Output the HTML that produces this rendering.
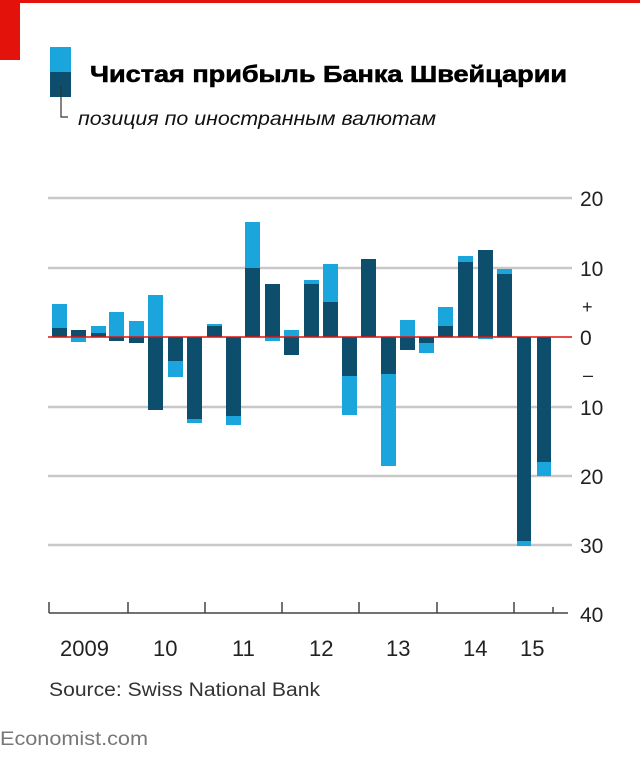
<!DOCTYPE html>
<html><head><meta charset="utf-8"><style>
body{margin:0;background:#fff;width:640px;height:758px;overflow:hidden}
</style></head><body>
<svg width="640" height="758" xmlns="http://www.w3.org/2000/svg" font-family="Liberation Sans, sans-serif">
<rect x="0" y="0" width="640" height="3" fill="#e3120b"/>
<rect x="0" y="0" width="20" height="60" fill="#e3120b"/>
<rect x="50" y="47" width="21" height="25" fill="#1aa6dc"/>
<rect x="50" y="72" width="21" height="25" fill="#0c4e6b"/>
<path d="M61 86 V117 H68" stroke="#333" stroke-width="1.2" fill="none"/>
<text x="90" y="82" font-size="23" font-weight="bold" textLength="477" lengthAdjust="spacingAndGlyphs" font-family="Liberation Sans, 'Noto Sans CJK SC', sans-serif" fill="#000" stroke="#000" stroke-width="0.6">Чистая прибыль Банка Швейцарии</text>
<text x="78" y="125" font-size="19" font-style="italic" textLength="358" lengthAdjust="spacingAndGlyphs" font-family="Liberation Sans, 'Noto Sans CJK SC', sans-serif" fill="#111">позиция по иностранным валютам</text>
<g stroke="#c8c8c8" stroke-width="2.5">
<line x1="48" y1="198" x2="572" y2="198"/>
<line x1="48" y1="268" x2="572" y2="268"/>
<line x1="48" y1="407" x2="572" y2="407"/>
<line x1="48" y1="476" x2="572" y2="476"/>
<line x1="48" y1="545" x2="572" y2="545"/>
</g>
<g font-size="21" fill="#222">
<text x="580" y="206">20</text>
<text x="580" y="276">10</text>
<text x="582" y="313" font-size="18">+</text>
<text x="580" y="345">0</text>
<text x="583" y="381" font-size="18">–</text>
<text x="580" y="415">10</text>
<text x="580" y="484">20</text>
<text x="580" y="553">30</text>
<text x="580" y="622">40</text>
</g>
<g>
<rect x="52" y="304" width="15" height="24" fill="#1aa6dc"/><rect x="52" y="328" width="15" height="9" fill="#0c4e6b"/>
<rect x="71" y="330" width="15" height="7" fill="#0c4e6b"/><rect x="71" y="337" width="15" height="5" fill="#1aa6dc"/>
<rect x="91" y="326" width="15" height="7" fill="#1aa6dc"/><rect x="91" y="333" width="15" height="4" fill="#0c4e6b"/>
<rect x="109" y="312" width="15" height="25" fill="#1aa6dc"/><rect x="109" y="337" width="15" height="4" fill="#0c4e6b"/>
<rect x="129" y="321" width="15" height="16" fill="#1aa6dc"/><rect x="129" y="337" width="15" height="6" fill="#0c4e6b"/>
<rect x="148" y="295" width="15" height="42" fill="#1aa6dc"/><rect x="148" y="337" width="15" height="73" fill="#0c4e6b"/>
<rect x="168" y="337" width="15" height="24" fill="#0c4e6b"/><rect x="168" y="361" width="15" height="16" fill="#1aa6dc"/>
<rect x="187" y="337" width="15" height="82" fill="#0c4e6b"/><rect x="187" y="419" width="15" height="4" fill="#1aa6dc"/>
<rect x="207" y="324" width="15" height="2" fill="#1aa6dc"/><rect x="207" y="326" width="15" height="11" fill="#0c4e6b"/>
<rect x="226" y="337" width="15" height="79" fill="#0c4e6b"/><rect x="226" y="416" width="15" height="9" fill="#1aa6dc"/>
<rect x="245" y="222" width="15" height="46" fill="#1aa6dc"/><rect x="245" y="268" width="15" height="69" fill="#0c4e6b"/>
<rect x="265" y="284" width="15" height="53" fill="#0c4e6b"/><rect x="265" y="337" width="15" height="4" fill="#1aa6dc"/>
<rect x="284" y="330" width="15" height="7" fill="#1aa6dc"/><rect x="284" y="337" width="15" height="18" fill="#0c4e6b"/>
<rect x="304" y="280" width="15" height="4" fill="#1aa6dc"/><rect x="304" y="284" width="15" height="53" fill="#0c4e6b"/>
<rect x="323" y="264" width="15" height="38" fill="#1aa6dc"/><rect x="323" y="302" width="15" height="35" fill="#0c4e6b"/>
<rect x="342" y="337" width="15" height="39" fill="#0c4e6b"/><rect x="342" y="376" width="15" height="39" fill="#1aa6dc"/>
<rect x="361" y="259" width="15" height="78" fill="#0c4e6b"/>
<rect x="381" y="337" width="15" height="37" fill="#0c4e6b"/><rect x="381" y="374" width="15" height="92" fill="#1aa6dc"/>
<rect x="400" y="320" width="15" height="17" fill="#1aa6dc"/><rect x="400" y="337" width="15" height="13" fill="#0c4e6b"/>
<rect x="419" y="337" width="15" height="6" fill="#0c4e6b"/><rect x="419" y="343" width="15" height="10" fill="#1aa6dc"/>
<rect x="438" y="307" width="15" height="19" fill="#1aa6dc"/><rect x="438" y="326" width="15" height="11" fill="#0c4e6b"/>
<rect x="458" y="256" width="15" height="6" fill="#1aa6dc"/><rect x="458" y="262" width="15" height="75" fill="#0c4e6b"/>
<rect x="478" y="250" width="15" height="87" fill="#0c4e6b"/><rect x="478" y="337" width="15" height="2" fill="#1aa6dc"/>
<rect x="497" y="269" width="15" height="5" fill="#1aa6dc"/><rect x="497" y="274" width="15" height="63" fill="#0c4e6b"/>
<rect x="517" y="337" width="14" height="204" fill="#0c4e6b"/><rect x="517" y="541" width="14" height="5" fill="#1aa6dc"/>
<rect x="537" y="337" width="14" height="125" fill="#0c4e6b"/><rect x="537" y="462" width="14" height="14" fill="#1aa6dc"/>
</g>
<line x1="48" y1="337" x2="572" y2="337" stroke="#e3120b" stroke-width="1.5"/>
<g stroke="#444" stroke-width="1.5">
<line x1="49" y1="613" x2="568" y2="613"/>
<line x1="49" y1="602" x2="49" y2="613"/>
<line x1="128" y1="602" x2="128" y2="613"/>
<line x1="205" y1="602" x2="205" y2="613"/>
<line x1="282" y1="602" x2="282" y2="613"/>
<line x1="359" y1="602" x2="359" y2="613"/>
<line x1="437" y1="602" x2="437" y2="613"/>
<line x1="514" y1="602" x2="514" y2="613"/>
<line x1="553" y1="607" x2="553" y2="613"/>
</g>
<g font-size="22" fill="#222">
<text x="60" y="656">2009</text>
<text x="153" y="656">10</text>
<text x="232" y="656">11</text>
<text x="309" y="656">12</text>
<text x="386" y="656">13</text>
<text x="463" y="656">14</text>
<text x="520" y="656">15</text>
</g>
<text x="49" y="696" font-size="19" textLength="271" lengthAdjust="spacingAndGlyphs" fill="#333">Source: Swiss National Bank</text>
<text x="0" y="745" font-size="19" textLength="148" lengthAdjust="spacingAndGlyphs" fill="#777">Economist.com</text>
</svg>
</body></html>
